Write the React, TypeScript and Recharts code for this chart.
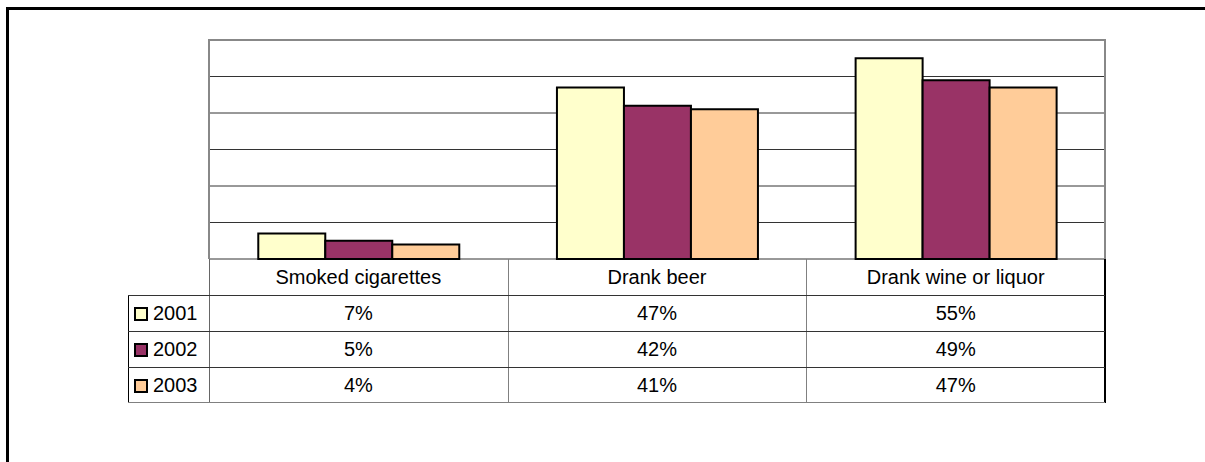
import React from "react";
import { BarChart, Bar, XAxis, YAxis, CartesianGrid } from "recharts";

const categories = ["Smoked cigarettes", "Drank beer", "Drank wine or liquor"];
const years = ["2001", "2002", "2003"];
const values2001 = [7, 47, 55];
const values2002 = [5, 42, 49];
const values2003 = [4, 41, 47];
const yTicks = [0, 10, 20, 30, 40, 50, 60];

const seriesColors = ["#FFFFCC", "#993366", "#FFCC99"];
const seriesValues = [values2001, values2002, values2003];

const chartData = categories.map((name, i) => ({
  name,
  y2001: values2001[i],
  y2002: values2002[i],
  y2003: values2003[i],
}));

// layout (px, page coords)
const W = 1205;
const H = 462;
const PLOT_LEFT = 209;
const PLOT_RIGHT = 1105;
const PLOT_TOP = 40;
const PLOT_BOTTOM = 259;
const ROW_H = 36;
const LEGEND_LEFT = 128;
const colW = (PLOT_RIGHT - PLOT_LEFT) / categories.length;
const FONT = "'Liberation Sans', Arial, sans-serif";

function Line({ x, y, w, h, color }: { x: number; y: number; w: number; h: number; color: string }) {
  return <div style={{ position: "absolute", left: x, top: y, width: w, height: h, background: color }} />;
}

function Cell({ x, y, w, text }: { x: number; y: number; w: number; text: string }) {
  return (
    <div
      style={{
        position: "absolute",
        left: x,
        top: y,
        width: w,
        height: ROW_H,
        lineHeight: `${ROW_H}px`,
        textAlign: "center",
        fontSize: 20,
        color: "#000",
      }}
    >
      {text}
    </div>
  );
}

export default function App() {
  const tableBottom = PLOT_BOTTOM + ROW_H * (years.length + 1);
  return (
    <div
      style={{
        position: "fixed",
        left: 0,
        top: 0,
        width: W,
        height: H,
        background: "#fff",
        overflow: "hidden",
        fontFamily: FONT,
      }}
    >
      <div
        style={{
          position: "absolute",
          left: 6,
          top: 7,
          width: W,
          height: H,
          borderLeft: "3px solid #000",
          borderTop: "3px solid #000",
        }}
      />
      <div style={{ position: "absolute", left: 0, top: 0 }}>
        <BarChart
          width={W}
          height={H}
          data={chartData}
          margin={{ top: PLOT_TOP, left: PLOT_LEFT, right: W - PLOT_RIGHT, bottom: H - PLOT_BOTTOM }}
          barCategoryGap="16.5%"
          barGap={0}
        >
          <CartesianGrid vertical={false} stroke="#333" strokeWidth={1} />
          <YAxis hide domain={[0, 60]} ticks={yTicks} width={0} />
          <XAxis
            dataKey="name"
            height={0}
            tick={false}
            tickLine={false}
            axisLine={{ stroke: "#000", strokeWidth: 2 }}
          />
          {years.map((yr, i) => (
            <Bar
              key={yr}
              dataKey={`y${yr}`}
              fill={seriesColors[i]}
              stroke="#000"
              strokeWidth={2}
              isAnimationActive={false}
            />
          ))}
        </BarChart>
      </div>
      {/* plot area frame */}
      <div
        style={{
          position: "absolute",
          boxSizing: "border-box",
          left: PLOT_LEFT - 1,
          top: PLOT_TOP - 1,
          width: PLOT_RIGHT - PLOT_LEFT + 2,
          height: PLOT_BOTTOM - PLOT_TOP + 1,
          borderLeft: "2px solid #888",
          borderTop: "2px solid #888",
          borderRight: "2px solid #888",
          pointerEvents: "none",
        }}
      />
      {/* data table */}
      {categories.map((c, i) => (
        <Cell key={c} x={PLOT_LEFT + i * colW} y={PLOT_BOTTOM} w={colW} text={c} />
      ))}
      {years.map((yr, r) => (
        <React.Fragment key={yr}>
          <div
            style={{
              position: "absolute",
              left: LEGEND_LEFT + 6,
              top: PLOT_BOTTOM + ROW_H * (r + 1) + 12,
              width: 10,
              height: 10,
              border: "2px solid #000",
              background: seriesColors[r],
            }}
          />
          <div
            style={{
              position: "absolute",
              left: LEGEND_LEFT + 25,
              top: PLOT_BOTTOM + ROW_H * (r + 1),
              height: ROW_H,
              lineHeight: `${ROW_H}px`,
              fontSize: 20,
            }}
          >
            {yr}
          </div>
          {categories.map((c, i) => (
            <Cell
              key={c}
              x={PLOT_LEFT + i * colW}
              y={PLOT_BOTTOM + ROW_H * (r + 1)}
              w={colW}
              text={`${seriesValues[r][i]}%`}
            />
          ))}
        </React.Fragment>
      ))}
      {/* table lines */}
      <Line x={PLOT_LEFT} y={PLOT_BOTTOM} w={1} h={tableBottom - PLOT_BOTTOM} color="#666" />
      {categories.slice(1).map((c, i) => (
        <Line key={c} x={Math.round(PLOT_LEFT + (i + 1) * colW)} y={PLOT_BOTTOM} w={1} h={tableBottom - PLOT_BOTTOM} color="#808080" />
      ))}
      <Line x={PLOT_RIGHT - 1} y={PLOT_BOTTOM} w={2} h={tableBottom - PLOT_BOTTOM} color="#000" />
      <Line x={LEGEND_LEFT} y={PLOT_BOTTOM + ROW_H} w={1} h={ROW_H * years.length} color="#000" />
      {years.map((yr, r) => (
        <Line key={yr} x={LEGEND_LEFT} y={PLOT_BOTTOM + ROW_H * (r + 1)} w={PLOT_RIGHT - LEGEND_LEFT} h={1} color="#333" />
      ))}
      <Line x={LEGEND_LEFT} y={tableBottom - 1} w={PLOT_RIGHT - LEGEND_LEFT} h={1} color="#808080" />
    </div>
  );
}
